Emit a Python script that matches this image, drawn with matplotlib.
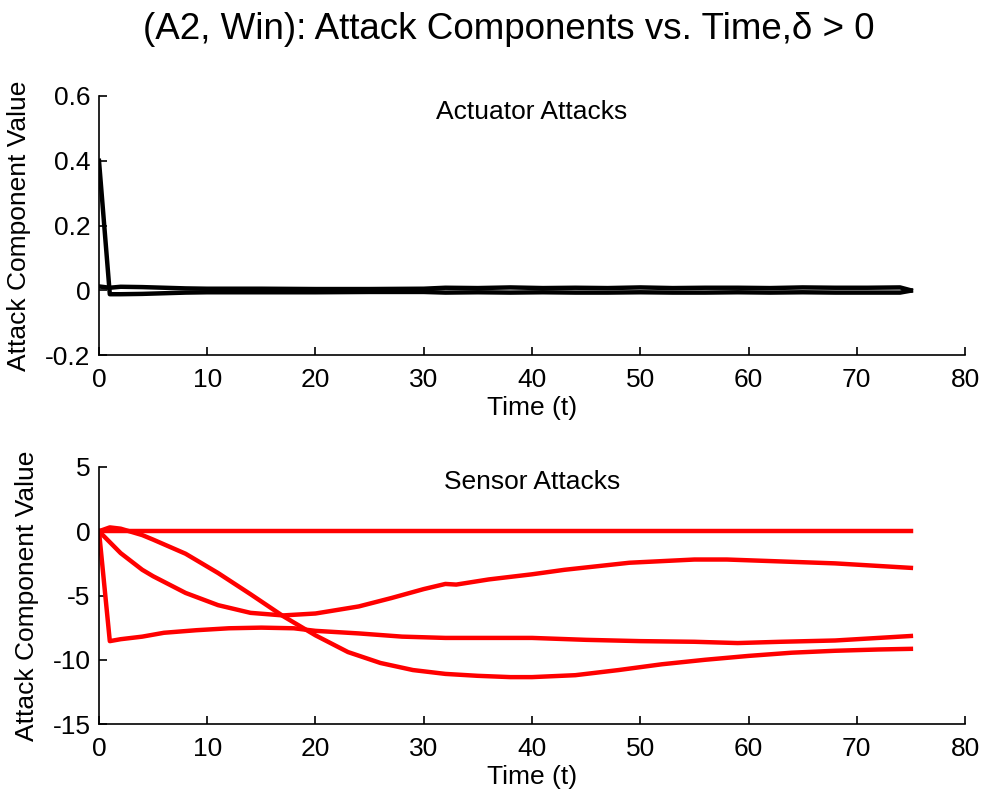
import matplotlib
matplotlib.use("Agg")
import matplotlib.pyplot as plt

plt.rcParams['font.family'] = ['Liberation Sans', 'DejaVu Sans']

# ---- data ----
t_act = [0, 1, 2, 4, 6, 8, 10, 15, 20, 25, 30, 32, 35, 38, 41, 44, 47, 50, 53, 56, 59, 62, 65, 68, 71, 74, 75]
act1 = [0.40, -0.012, -0.012, -0.011, -0.009, -0.007, -0.006, -0.006, -0.006, -0.005, -0.005,
        -0.007, -0.006, -0.007, -0.006, -0.007, -0.007, -0.006, -0.007, -0.007, -0.006, -0.007,
        -0.006, -0.007, -0.007, -0.007, -0.001]
act2 = [0.012, 0.008, 0.011, 0.010, 0.008, 0.006, 0.005, 0.005, 0.004, 0.004, 0.005,
        0.008, 0.007, 0.009, 0.007, 0.008, 0.007, 0.009, 0.007, 0.008, 0.008, 0.007,
        0.009, 0.008, 0.008, 0.009, 0.000]

tA = [0, 75]
sA = [0, 0]

tB = [0, 1, 2, 4, 6, 9, 12, 15, 18, 20, 24, 28, 32, 37, 40, 45, 50, 55, 59, 63, 68, 71, 75]
sB = [0, -8.55, -8.4, -8.2, -7.9, -7.7, -7.55, -7.5, -7.55, -7.75, -7.95, -8.2, -8.3, -8.3,
      -8.3, -8.45, -8.55, -8.6, -8.7, -8.6, -8.5, -8.35, -8.15]

tC = [0, 2, 4, 5, 8, 11, 14, 17, 20, 24, 27, 30, 32, 33, 36, 40, 43, 49, 55, 58, 63, 68, 75]
sC = [0, -1.7, -3.0, -3.5, -4.8, -5.75, -6.35, -6.55, -6.4, -5.85, -5.2, -4.5, -4.1, -4.15,
      -3.75, -3.35, -3.0, -2.45, -2.2, -2.2, -2.35, -2.5, -2.85]

tD = [0, 1, 2, 4, 5, 8, 11, 14, 17, 20, 23, 26, 29, 32, 35, 38, 40, 44, 48, 52, 56, 60, 64, 68, 72, 75]
sD = [0, 0.3, 0.2, -0.3, -0.65, -1.75, -3.25, -4.9, -6.6, -8.1, -9.4, -10.25, -10.8, -11.1,
      -11.25, -11.35, -11.35, -11.2, -10.8, -10.35, -10.0, -9.7, -9.45, -9.3, -9.2, -9.15]

xticks = [0, 10, 20, 30, 40, 50, 60, 70, 80]
yticks_top = [-0.2, 0, 0.2, 0.4, 0.6]
ylabels_top = ['-0.2', '0', '0.2', '0.4', '0.6']
yticks_bot = [-15, -10, -5, 0, 5]
ylabels_bot = ['-15', '-10', '-5', '0', '5']

fig = plt.figure(figsize=(9.82, 7.98), dpi=100)
ax1 = fig.add_axes([0.1008, 0.555, 0.8819, 0.3247])
ax2 = fig.add_axes([0.1008, 0.0927, 0.8819, 0.3221])

lw = 3.2
for y in (act1, act2):
    ax1.plot(t_act, y, color='black', lw=lw)
for t, y in ((tA, sA), (tB, sB), (tC, sC), (tD, sD)):
    ax2.plot(t, y, color='#ff0000', lw=lw)

FS = 19

def style(ax, yt, ytl, ylim, lab):
    ax.set_xlim(0, 80)
    ax.set_ylim(*ylim)
    ax.set_xticks(xticks)
    ax.set_yticks(yt)
    ax.set_yticklabels(ytl)
    for s in ('top', 'right'):
        ax.spines[s].set_visible(False)
    for s in ('left', 'bottom'):
        ax.spines[s].set_linewidth(1.2)
    ax.tick_params(direction='in', length=6, width=1.2, labelsize=FS)
    ax.tick_params(axis='x', pad=9)
    ax.tick_params(axis='y', pad=6)
    ax.set_xlabel('Time (t)', fontsize=FS, labelpad=3)
    ax.set_ylabel('Attack Component Value', fontsize=FS, labelpad=10)
    ax.text(0.5, 0.94, lab, transform=ax.transAxes, ha='center', va='center', fontsize=FS)

style(ax1, yticks_top, ylabels_top, (-0.2, 0.6), 'Actuator Attacks')
style(ax2, yticks_bot, ylabels_bot, (-15, 5), 'Sensor Attacks')

fig.text(0.518, 0.963, '(A2, Win): Attack Components vs. Time,\u03b4 > 0', ha='center', va='center',
         fontsize=26.5)

fig.savefig('out.png', dpi=100)
